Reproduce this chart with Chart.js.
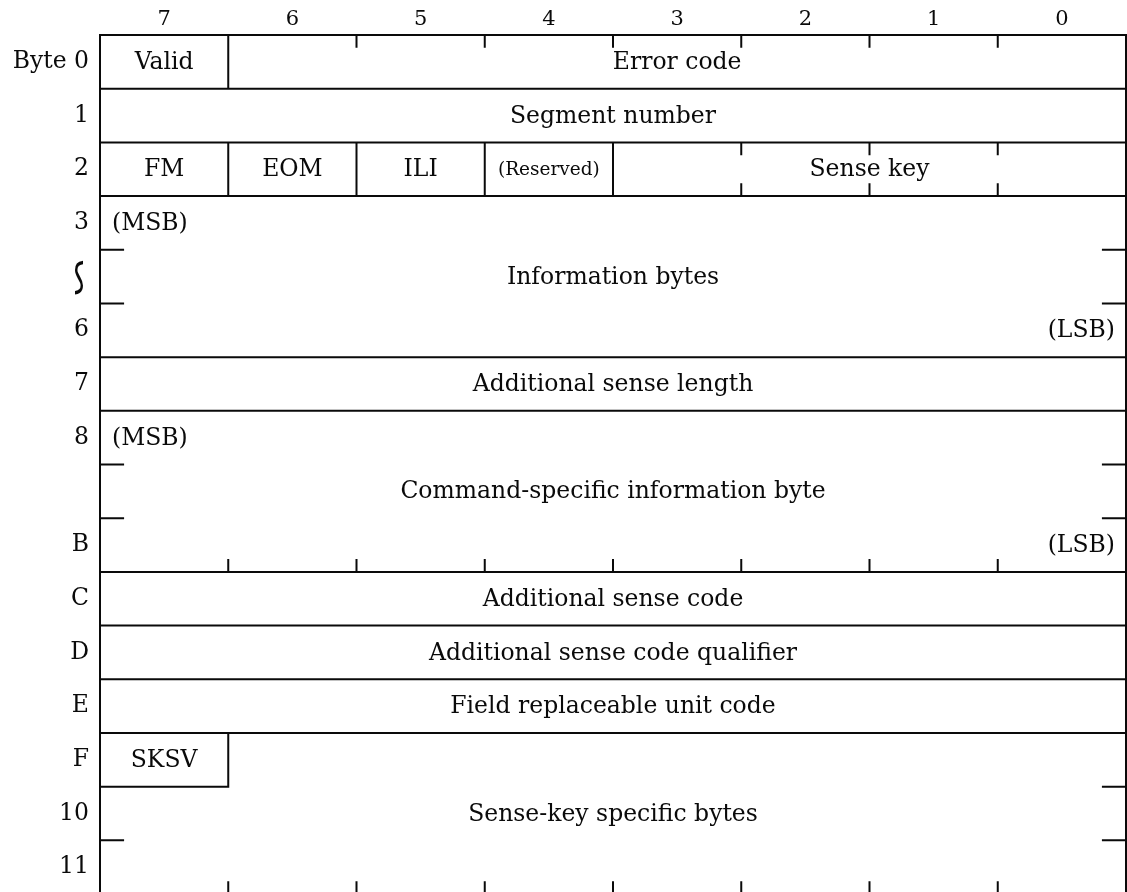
<!DOCTYPE html>
<html>
<head>
<meta charset="utf-8">
<script src="https://cdn.jsdelivr.net/npm/chart.js@4.4.1/dist/chart.umd.min.js"></script>
<style>
  html, body { margin: 0; padding: 0; background: #fff; overflow: hidden; }
  #wrap { position: relative; width: 1127px; height: 900px; }
</style>
</head>
<body>
<div id="wrap"><canvas id="sense"></canvas></div>
<script>
const bitLabels = ['7', '6', '5', '4', '3', '2', '1', '0'];
const rowLabels = ['Byte 0', '1', '2', '3', '~', '6', '7', '8', '', 'B', 'C', 'D', 'E', 'F', '10', '11'];
const GAP_MARK = '~';

// row units taken by each band, and whether the band gets bit ticks on top / bottom
const bandUnits = [1, 1, 1, 3, 1, 3, 1, 1, 1, 3];
const bandTickTop = [1, 0, 1, 0, 0, 0, 0, 0, 0, 0];
const bandTickBottom = [0, 0, 1, 0, 0, 1, 0, 0, 0, 1];

const fieldNames = ['Valid', 'Error code', 'Segment number', 'FM', 'EOM', 'ILI', '(Reserved)', 'Sense key',
  'Information bytes', 'Additional sense length', 'Command-specific information byte',
  'Additional sense code', 'Additional sense code qualifier', 'Field replaceable unit code',
  'SKSV', 'Sense-key specific bytes'];
const fieldBand = [0, 0, 1, 2, 2, 2, 2, 2, 3, 4, 5, 6, 7, 8, 9, 9];
const fieldMsb  = [7, 6, 7, 7, 6, 5, 4, 3, 7, 7, 7, 7, 7, 7, 7, 7];
const fieldLsb  = [7, 0, 0, 7, 6, 5, 4, 0, 0, 0, 0, 0, 0, 0, 7, 0];
const fieldRows = [1, 1, 1, 1, 1, 1, 1, 1, 3, 1, 3, 1, 1, 1, 1, 3];

const noteText = ['(MSB)', '(LSB)', '(MSB)', '(LSB)'];
const noteBand = [3, 3, 5, 5];
const noteUnit = [0, 2, 0, 2];
const noteSide = ['left', 'right', 'left', 'right'];

const FONT = '"DejaVu Serif", "Liberation Serif", serif';
const INK = '#0a0a0a';
const TICK_X = 0.18, TICK_Y = 0.22;

const bandTop = [];
const totalUnits = bandUnits.reduce((acc, u, i) => { bandTop[i] = acc; return acc + u; }, 0);

// line segments in (bit, row) units, split by null points
const segs = [];
function seg(x1, y1, x2, y2) {
  segs.push({x: x1, y: y1}, {x: x2, y: y2}, {x: null, y: null});
}

seg(8, 0, 8, totalUnits);
seg(0, 0, 0, totalUnits);
bandTop.forEach(t => seg(8, t, 0, t));
seg(8, totalUnits, 0, totalUnits);

bandUnits.forEach((u, i) => {
  for (let k = 1; k < u; k++) {
    const yy = bandTop[i] + k;
    seg(8, yy, 8 - TICK_X, yy);
    seg(0, yy, TICK_X, yy);
  }
});

fieldNames.forEach((_, f) => {
  const b = fieldBand[f], t = bandTop[b];
  if (fieldLsb[f] > 0) seg(fieldLsb[f], t, fieldLsb[f], t + fieldRows[f]);
  if (fieldRows[f] < bandUnits[b]) seg(fieldMsb[f] + 1, t + fieldRows[f], fieldLsb[f], t + fieldRows[f]);
});

bandUnits.forEach((u, i) => {
  const t = bandTop[i], bot = t + u;
  const edgesTop = [], edgesBot = [];
  fieldNames.forEach((_, f) => {
    if (fieldBand[f] !== i) return;
    edgesTop.push(fieldLsb[f]);
    if (fieldRows[f] === u) edgesBot.push(fieldLsb[f]);
  });
  for (let b = 1; b < 8; b++) {
    if (bandTickTop[i] && !edgesTop.includes(b)) seg(b, t, b, t + TICK_Y);
    if (bandTickBottom[i] && !edgesBot.includes(b)) seg(b, bot, b, bot - TICK_Y);
  }
});

const fieldLabels = {
  id: 'fieldLabels',
  afterDatasetsDraw(chart) {
    const {ctx, scales: {x, y}} = chart;
    ctx.save();
    ctx.fillStyle = INK;
    ctx.textBaseline = 'middle';
    fieldNames.forEach((name, f) => {
      const t = bandTop[fieldBand[f]];
      const cx = x.getPixelForValue((fieldMsb[f] + 1 + fieldLsb[f]) / 2);
      const cy = y.getPixelForValue(t + fieldRows[f] / 2) + 1;
      ctx.font = (name === '(Reserved)' ? 18.5 : 23.5) + 'px ' + FONT;
      ctx.textAlign = 'center';
      ctx.fillText(name, cx, cy);
    });
    ctx.font = '23.5px ' + FONT;
    noteText.forEach((txt, n) => {
      const yy = y.getPixelForValue(bandTop[noteBand[n]] + noteUnit[n] + 0.5) + 1;
      if (noteSide[n] === 'left') {
        ctx.textAlign = 'left';
        ctx.fillText(txt, x.getPixelForValue(8) + 12, yy);
      } else {
        ctx.textAlign = 'right';
        ctx.fillText(txt, x.getPixelForValue(0) - 11, yy);
      }
    });
    // the "bytes omitted" mark: a tilde stood upright, as in the printed table
    const gi = rowLabels.indexOf(GAP_MARK);
    if (gi >= 0) {
      ctx.font = '56px "Liberation Serif"';
      ctx.textAlign = 'center';
      ctx.textBaseline = 'alphabetic';
      const m = ctx.measureText(GAP_MARK);
      ctx.translate(y.right - 21, y.getPixelForValue(gi + 0.5) + 1);
      ctx.scale(-1, 1);
      ctx.rotate(Math.PI / 2);
      ctx.scale(1.25, 0.85);
      ctx.fillText(GAP_MARK, 0, (m.actualBoundingBoxAscent - m.actualBoundingBoxDescent) / 2);
    }
    ctx.restore();
  }
};

new Chart(document.getElementById('sense'), {
  type: 'scatter',
  data: {
    datasets: [{
      data: segs,
      showLine: true,
      spanGaps: false,
      pointRadius: 0,
      borderColor: INK,
      borderWidth: 2,
      borderCapStyle: 'square',
      tension: 0,
      clip: false
    }]
  },
  options: {
    responsive: true,
    maintainAspectRatio: false,
    animation: false,
    layout: {padding: {top: 0, right: 1, bottom: 6, left: 0}},
    plugins: {legend: {display: false}, tooltip: {enabled: false}},
    events: [],
    scales: {
      x: {
        type: 'linear', position: 'top', min: 0, max: 8, reverse: true,
        grid: {display: false, drawTicks: false}, border: {display: false},
        afterBuildTicks: ax => { ax.ticks = bitLabels.map((_, i) => ({value: 7.5 - i})); },
        afterFit: ax => { ax.height = 35; ax.paddingLeft = 0; ax.paddingRight = 0; },
        ticks: {
          autoSkip: false, maxRotation: 0, padding: 3, color: INK,
          font: {family: FONT, size: 21},
          callback: (v, i) => bitLabels[i]
        }
      },
      y: {
        type: 'linear', min: 0, max: totalUnits, reverse: true,
        grid: {display: false, drawTicks: false}, border: {display: false},
        afterBuildTicks: ax => { ax.ticks = rowLabels.map((_, i) => ({value: i + 0.5})); },
        afterFit: ax => { ax.width = 100; ax.paddingTop = 0; ax.paddingBottom = 0; },
        ticks: {
          autoSkip: false, padding: 11,
          color: ctx => rowLabels[ctx.index] === GAP_MARK ? 'rgba(0,0,0,0)' : INK,
          font: {family: FONT, size: 23.5},
          callback: (v, i) => rowLabels[i]
        }
      }
    }
  },
  plugins: [fieldLabels]
});
</script>
</body>
</html>
